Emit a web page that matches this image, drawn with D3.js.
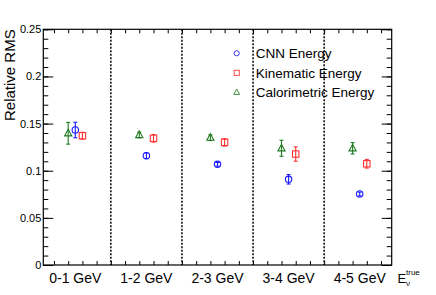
<!DOCTYPE html>
<html>
<head>
<meta charset="utf-8">
<script src="https://cdn.jsdelivr.net/npm/d3@7"></script>
<style>
  body { margin: 0; background: #fff; }
  text { font-family: "Liberation Sans", Arial, sans-serif; fill: #000; }
</style>
</head>
<body>
<div id="chart"></div>
<script>
// bins of true neutrino energy
const binLabels = ["0-1 GeV", "1-2 GeV", "2-3 GeV", "3-4 GeV", "4-5 GeV"];
const seriesNames = ["CNN Energy", "Kinematic Energy", "Calorimetric Energy"];

// relative RMS per bin and its error
const cnnRms = [0.1432, 0.1159, 0.1068, 0.0909, 0.0753];
const cnnErr = [0.0082, 0.0030, 0.0020, 0.0050, 0.0020];
const kinRms = [0.1371, 0.1344, 0.1301, 0.1177, 0.1074];
const kinErr = [0.0036, 0.0040, 0.0040, 0.0076, 0.0046];
const calRms = [0.1397, 0.1379, 0.1350, 0.1238, 0.1238];
const calErr = [0.0115, 0.0030, 0.0030, 0.0085, 0.0060];

const yTicks = [0, 0.05, 0.1, 0.15, 0.2, 0.25];

const width = 436, height = 295;
const margin = { left: 43.3, right: 44.3, top: 29.3, bottom: 30 };

const svg = d3.select("#chart").append("svg")
    .attr("width", width)
    .attr("height", height);

const x = d3.scaleLinear()
    .domain([0.05, 4.95])
    .range([margin.left, width - margin.right]);

const y = d3.scaleLinear()
    .domain([0, 0.25])
    .range([height - margin.bottom, margin.top]);

const x0 = x.range()[0], x1 = x.range()[1];
const y0 = y.range()[0], y1 = y.range()[1];

// y axis, left (ticks point inward)
svg.append("g")
    .attr("transform", `translate(${x0},0)`)
    .call(d3.axisRight(y).tickValues(d3.range(0, 0.2501, 0.01)).tickSize(5).tickFormat(""))
    .call(g => g.select(".domain").remove());
svg.append("g")
    .attr("transform", `translate(${x0},0)`)
    .call(d3.axisRight(y).tickValues(yTicks).tickSize(10).tickFormat(""))
    .call(g => g.select(".domain").remove());
svg.selectAll(".ylab")
    .data(yTicks)
    .enter()
    .append("text")
    .attr("x", x0 - 2)
    .attr("y", d => y(d) + 4)
    .attr("text-anchor", "end")
    .style("font-size", "11px")
    .text(d => d === 0 ? "0" : d3.format("")(d));

// y axis, right mirror
svg.append("g")
    .attr("transform", `translate(${x1},0)`)
    .call(d3.axisLeft(y).tickValues(d3.range(0, 0.2501, 0.01)).tickSize(5).tickFormat(""))
    .call(g => g.select(".domain").remove());
svg.append("g")
    .attr("transform", `translate(${x1},0)`)
    .call(d3.axisLeft(y).tickValues(yTicks).tickSize(10).tickFormat(""))
    .call(g => g.select(".domain").remove());

// x axis ticks, bottom and top
const xMinor = d3.range(0.2, 4.9, 0.2);
svg.append("g")
    .attr("transform", `translate(0,${y0})`)
    .call(d3.axisTop(x).tickValues(xMinor).tickSize(4).tickFormat(""))
    .call(g => g.select(".domain").remove());
svg.append("g")
    .attr("transform", `translate(0,${y1})`)
    .call(d3.axisBottom(x).tickValues(xMinor).tickSize(4).tickFormat(""))
    .call(g => g.select(".domain").remove());
svg.selectAll(".tick line").attr("stroke", "#000");

// frame
svg.append("rect")
    .attr("x", x0).attr("y", y1)
    .attr("width", x1 - x0).attr("height", y0 - y1)
    .attr("fill", "none")
    .attr("stroke", "#000")
    .attr("stroke-width", 1.2);

// dotted dividers between bins
svg.selectAll(".divider")
    .data(d3.range(1, binLabels.length))
    .enter()
    .append("line")
    .attr("x1", d => x(d)).attr("x2", d => x(d))
    .attr("y1", y1).attr("y2", y0)
    .attr("stroke", "#000")
    .attr("stroke-width", 1.5)
    .attr("stroke-dasharray", "2,1.5");

// bin labels
svg.selectAll(".xlab")
    .data(binLabels)
    .enter()
    .append("text")
    .attr("x", (d, i) => x(i + 0.5))
    .attr("y", y0 + 18)
    .attr("text-anchor", "middle")
    .style("font-size", "14px")
    .text(d => d);

// axis titles
svg.append("text")
    .attr("transform", `translate(15,${y1}) rotate(-90)`)
    .attr("text-anchor", "end")
    .style("font-size", "15px")
    .text("Relative RMS");

const xt = svg.append("text")
    .attr("x", 397.5)
    .attr("y", y0 + 18)
    .style("font-size", "13px");
xt.append("tspan").text("E");
svg.append("text")
    .attr("x", 406).attr("y", y0 + 9.5)
    .style("font-size", "8px")
    .text("true");
svg.append("text")
    .attr("x", 406).attr("y", y0 + 21)
    .style("font-size", "8px")
    .text("\u03bd");

// series
const series = [
  { name: seriesNames[0], vals: cnnRms, errs: cnnErr, off: 0, color: "#1a1aff", shape: "circle" },
  { name: seriesNames[1], vals: kinRms, errs: kinErr, off: 0.1, color: "#ff3333", shape: "square" },
  { name: seriesNames[2], vals: calRms, errs: calErr, off: -0.1, color: "#217a21", shape: "triangle" }
];

function drawMarker(g, shape, color) {
  if (shape === "circle") {
    g.append("circle").attr("r", 3.2);
  } else if (shape === "square") {
    g.append("rect").attr("x", -3.2).attr("y", -3.2).attr("width", 6.4).attr("height", 6.4);
  } else {
    g.append("path").attr("d", "M0,-4L3.6,2.6L-3.6,2.6Z");
  }
  g.selectAll("*")
      .attr("fill", "none")
      .attr("stroke", color)
      .attr("stroke-width", 1.1);
}

series.forEach(s => {
  const pts = s.vals.map((v, i) => ({ xv: i + 0.5 + s.off, v: v, e: s.errs[i] }));
  const g = svg.append("g");
  g.selectAll(".err")
      .data(pts)
      .enter()
      .append("line")
      .attr("x1", d => x(d.xv)).attr("x2", d => x(d.xv))
      .attr("y1", d => y(d.v - d.e)).attr("y2", d => y(d.v + d.e))
      .attr("stroke", s.color)
      .attr("stroke-width", 1.1);
  [-1, 1].forEach(sgn => {
    g.selectAll(".cap" + sgn)
        .data(pts)
        .enter()
        .append("line")
        .attr("x1", d => x(d.xv) - 2).attr("x2", d => x(d.xv) + 2)
        .attr("y1", d => y(d.v + sgn * d.e)).attr("y2", d => y(d.v + sgn * d.e))
        .attr("stroke", s.color)
        .attr("stroke-width", 1.1);
  });
  pts.forEach(d => {
    const m = g.append("g").attr("transform", `translate(${x(d.xv)},${y(d.v)})`);
    drawMarker(m, s.shape, s.color);
  });
});

// legend
const legend = svg.append("g").attr("transform", "translate(236.7,53.3)");
series.forEach((s, i) => {
  const row = legend.append("g").attr("transform", `translate(0,${i * 19.5})`);
  const m = row.append("g").attr("transform", "scale(0.8)");
  drawMarker(m, s.shape, s.color);
  row.append("text")
      .attr("x", 19)
      .attr("y", 4.8)
      .style("font-size", "13.5px")
      .text(s.name);
});
</script>
</body>
</html>
